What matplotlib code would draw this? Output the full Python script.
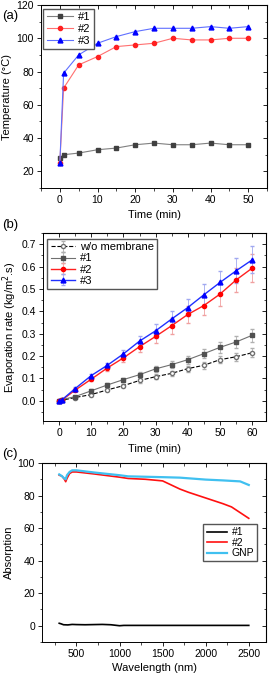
import numpy as np
import matplotlib.pyplot as plt

plt.rcParams['font.family'] = ['Liberation Sans', 'DejaVu Sans']
plt.rcParams['font.size'] = 8

# (a) temperature vs time
t_a = [0, 1, 5, 10, 15, 20, 25, 30, 35, 40, 45, 50]
temp1 = [28, 30, 31, 33, 34, 36, 37, 36, 36, 37, 36, 36]
temp2 = [25, 70, 84, 89, 95, 96, 97, 100, 99, 99, 100, 100]
temp3 = [25, 79, 90, 97, 101, 104, 106, 106, 106, 107, 106, 107]

# (b) evaporation rate vs time
t_b = [0, 1, 5, 10, 15, 20, 25, 30, 35, 40, 45, 50, 55, 60]
evap0 = [0, 0.003, 0.015, 0.028, 0.049, 0.068, 0.091, 0.108, 0.123, 0.144, 0.159, 0.184, 0.197, 0.215]
err0 = [0, 0.002, 0.004, 0.006, 0.007, 0.008, 0.009, 0.010, 0.011, 0.013, 0.015, 0.017, 0.018, 0.02]
evap1 = [0, 0.006, 0.019, 0.045, 0.071, 0.095, 0.117, 0.143, 0.162, 0.184, 0.211, 0.239, 0.263, 0.293]
err1 = [0, 0.002, 0.004, 0.006, 0.008, 0.009, 0.010, 0.012, 0.014, 0.018, 0.020, 0.024, 0.026, 0.03]
evap2 = [0, 0.005, 0.048, 0.097, 0.147, 0.192, 0.242, 0.288, 0.336, 0.386, 0.426, 0.477, 0.54, 0.593]
err2 = [0, 0.003, 0.006, 0.009, 0.012, 0.018, 0.025, 0.03, 0.036, 0.037, 0.042, 0.052, 0.055, 0.062]
evap3 = [0, 0.006, 0.055, 0.113, 0.159, 0.21, 0.267, 0.313, 0.366, 0.417, 0.474, 0.529, 0.581, 0.63]
err3 = [0, 0.003, 0.006, 0.009, 0.012, 0.018, 0.025, 0.03, 0.034, 0.04, 0.046, 0.05, 0.056, 0.06]

# (c) absorption spectra
wl1 = [300, 320, 350, 400, 450, 500, 600, 700, 800, 900, 950, 1000, 1050, 1500, 2000, 2500]
abs1 = [1.5, 1.2, 0.6, 0.5, 0.8, 0.7, 0.6, 0.7, 0.8, 0.6, 0.3, 0.0, 0.2, 0.2, 0.2, 0.2]
wl2 = [300, 330, 360, 375, 390, 420, 450, 500, 700, 1000, 1100, 1300, 1500, 1600, 1700, 1800, 2000, 2200, 2300, 2400, 2500]
abs2 = [92.5, 92, 90, 88.5, 90.5, 93.5, 94.5, 94.5, 93.3, 91.3, 90.5, 90, 89, 86.5, 84, 82, 78.5, 75, 73, 69.5, 66]
wl3 = [300, 330, 360, 375, 390, 420, 450, 500, 700, 1000, 1100, 1500, 1700, 2000, 2200, 2400, 2500]
abs3 = [93, 92, 90.5, 90, 92.5, 94.5, 95.5, 95.5, 94.2, 92.5, 91.8, 91.3, 91, 89.8, 89.3, 88.7, 86.5]

W, H = 270, 675
fig = plt.figure(figsize=(W / 100, H / 100), dpi=100)


def box(l, t, r, b):
    return [l / W, 1 - b / H, (r - l) / W, (b - t) / H]


def style(ax, xmaj, xmin, ymaj, ymin):
    ax.xaxis.set_major_locator(plt.MultipleLocator(xmaj))
    ax.xaxis.set_minor_locator(plt.MultipleLocator(xmin))
    ax.yaxis.set_major_locator(plt.MultipleLocator(ymaj))
    ax.yaxis.set_minor_locator(plt.MultipleLocator(ymin))
    ax.tick_params(which='major', direction='out', length=3, width=0.6, pad=2, labelsize=7.5)
    ax.tick_params(which='minor', direction='out', length=1.8, width=0.5)
    for s in ax.spines.values():
        s.set_linewidth(0.7)
    top = ax.secondary_xaxis('top')
    right = ax.secondary_yaxis('right')
    for sec in (top, right):
        sec.tick_params(which='both', direction='in', labeltop=False, labelright=False)
        sec.tick_params(which='major', length=3, width=0.6)
        sec.tick_params(which='minor', length=1.8, width=0.5)
    top.xaxis.set_major_locator(plt.MultipleLocator(xmaj))
    top.xaxis.set_minor_locator(plt.MultipleLocator(xmin))
    right.yaxis.set_major_locator(plt.MultipleLocator(ymaj))
    right.yaxis.set_minor_locator(plt.MultipleLocator(ymin))


leg_kw = dict(handletextpad=0.4, borderpad=0.3, fancybox=False,
              edgecolor='#555555', borderaxespad=0.2, framealpha=1)

# ---- (a)
ax = fig.add_axes(box(41, 5, 267, 188))
ax.plot(t_a, temp1, '-s', color='#808080', mfc='#404040', mec='#404040', lw=0.8, ms=3, label='#1')
ax.plot(t_a, temp2, '-o', color='#ff7070', mfc='#ff2020', mec='#ff2020', lw=0.8, ms=3, label='#2')
ax.plot(t_a, temp3, '-^', color='#6070ff', mfc='#0000ff', mec='#0000ff', lw=0.8, ms=3.5, label='#3')
ax.set_xlim(-5, 55)
ax.set_ylim(10, 120)
style(ax, 10, 5, 20, 10)
ax.set_xlabel('Time (min)', fontsize=8, labelpad=4)
ax.set_ylabel('Temperature (°C)', fontsize=8, labelpad=3)
ax.legend(loc='upper left', bbox_to_anchor=(0.0, 0.99), fontsize=8, handlelength=2.4,
          labelspacing=0.15, **leg_kw)
fig.text(2 / W, 1 - 16 / H, '(a)', fontsize=9.5, va='center')

# ---- (b)
ax = fig.add_axes(box(43, 233, 266, 421))
ax.errorbar(t_b, evap0, yerr=err0, fmt='--o', color='black', mfc='white', mec='#707070',
            ecolor='#b0b0b0', elinewidth=0.6, capsize=1.5, lw=0.8, ms=3, label='w/o membrane')
ax.errorbar(t_b, evap1, yerr=err1, fmt='-s', color='#707070', mfc='#505050', mec='#505050',
            ecolor='#b0b0b0', elinewidth=0.6, capsize=1.5, lw=0.8, ms=3, label='#1')
ax.errorbar(t_b, evap2, yerr=err2, fmt='-o', color='#ff2020', mfc='#ff0000', mec='#ff0000',
            ecolor='#f0a0a0', elinewidth=0.6, capsize=1.5, lw=1.0, ms=3, label='#2')
ax.errorbar(t_b, evap3, yerr=err3, fmt='-^', color='#2030ff', mfc='#0000ff', mec='#0000ff',
            ecolor='#a0a8f0', elinewidth=0.6, capsize=1.5, lw=1.0, ms=3.5, label='#3')
ax.set_xlim(-5, 64.3)
ax.set_ylim(-0.09, 0.75)
style(ax, 10, 5, 0.1, 0.05)
ax.yaxis.set_major_formatter(plt.FormatStrFormatter('%.1f'))
ax.set_xlabel('Time (min)', fontsize=8, labelpad=4)
ax.set_ylabel('Evaporation rate (kg/m$^2$.s)', fontsize=8, labelpad=2)
ax.legend(loc='upper left', bbox_to_anchor=(0.01, 0.98), fontsize=8, handlelength=2.2,
          labelspacing=0.1, **leg_kw)
fig.text(2 / W, 1 - 225 / H, '(b)', fontsize=9.5, va='center')

# ---- (c)
ax = fig.add_axes(box(42, 463, 266, 642))
ax.plot(wl1, abs1, color='black', lw=1.2, label='#1')
ax.plot(wl2, abs2, color='#ff1010', lw=1.2, label='#2')
ax.plot(wl3, abs3, color='#40c0f0', lw=1.6, label='GNP')
ax.set_xlim(100, 2700)
ax.set_ylim(-10, 100)
style(ax, 500, 250, 20, 10)
ax.set_xlabel('Wavelength (nm)', fontsize=8, labelpad=3)
ax.set_ylabel('Absorption', fontsize=8, labelpad=3)
ax.legend(loc='upper right', bbox_to_anchor=(0.97, 0.67), fontsize=7.5, handlelength=2.0,
          labelspacing=0.05, **leg_kw)
fig.text(2 / W, 1 - 454 / H, '(c)', fontsize=9.5, va='center')

fig.savefig('out.png', dpi=100)
